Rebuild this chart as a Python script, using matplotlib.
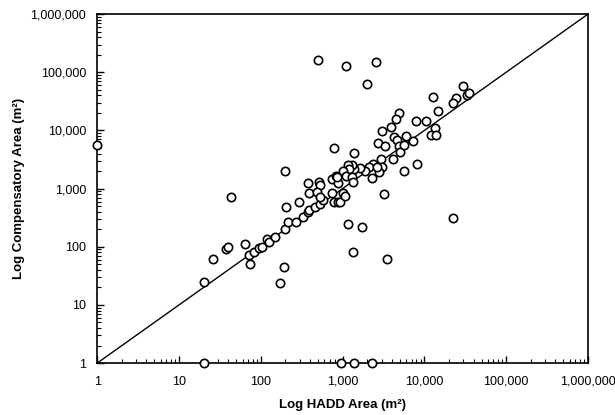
import numpy as np
import matplotlib.pyplot as plt
from matplotlib.ticker import FuncFormatter, LogLocator

plt.rcParams['font.family'] = ['Liberation Sans', 'DejaVu Sans']

# HADD area vs compensatory area (m2)
hadd_area = [1, 20, 20, 26, 38, 40, 43, 65, 72, 74, 83, 96, 103, 120, 126, 150,
             170, 195, 200, 205, 200, 218, 270, 295, 330, 380, 380, 390, 390,
             520, 530, 490, 460, 530, 580, 530, 750, 840, 750, 790, 890, 870,
             505, 1100, 2600, 2000, 790, 29600, 33000, 35000, 24500, 22500,
             12900, 14800, 7900, 10500, 13500, 12000, 14000, 7300, 8100, 5650,
             4900, 4550, 3900, 3000, 2700, 3300, 4300, 4650, 6000, 4900, 5000,
             5650, 4150, 2950, 3000, 2800, 2300, 3170, 2350, 2100, 1900, 2650,
             1650, 1380, 1380, 1310, 1160, 1200, 1020, 1100, 1310, 850, 1340,
             1020, 930, 1080, 1170, 1740, 1350, 3500, 22600, 960, 1380, 2300]
comp_area = [5600, 25, 1, 61, 91, 100, 710, 110, 72, 50, 81, 95, 100, 135, 120, 150,
             24, 45, 200, 480, 2000, 265, 265, 590, 320, 390, 1230, 830, 425,
             1290, 1140, 870, 480, 540, 630, 710, 1450, 1630, 830, 580, 580, 1230,
             160000, 127000, 148000, 64000, 5000, 57000, 40000, 44000, 35700, 29500,
             37000, 21400, 14500, 14500, 11000, 8500, 8500, 6500, 2640, 2000,
             19800, 16000, 11400, 9700, 6100, 5400, 7600, 6800, 8000, 5400, 4240,
             5600, 3200, 3200, 2400, 1900, 1500, 800, 2640, 2350, 2040, 2350,
             2230, 4050, 2150, 2500, 2500, 2150, 2040, 1630, 1560, 1580, 1290,
             830, 580, 740, 250, 215, 81, 61, 310, 1, 1, 1]
one_to_one = [1, 1e6]

fig = plt.figure(figsize=(6.15, 4.15), dpi=100)
ax = fig.add_axes([0.158, 0.125, 0.798, 0.841])

ax.plot(one_to_one, one_to_one, color='black', lw=1.0)
ax.plot(hadd_area, comp_area, 'o', ms=6, mfc='white', mec='black', mew=1.2,
        clip_on=False, zorder=3)

ax.set_xscale('log')
ax.set_yscale('log')
ax.set_xlim(1, 1e6)
ax.set_ylim(1, 1e6)

fmt = FuncFormatter(lambda v, p: f'{v:,.0f}')
for axis in (ax.xaxis, ax.yaxis):
    axis.set_major_locator(LogLocator(base=10, numticks=10))
    axis.set_minor_locator(LogLocator(base=10, subs=np.arange(2, 10), numticks=10))
    axis.set_major_formatter(fmt)

ax.tick_params(which='both', direction='in', top=False, right=False,
               labelsize=9)
ax.tick_params(which='major', length=5, width=1)
ax.tick_params(which='minor', length=3, width=0.8)
ax.tick_params(axis='x', pad=9)
ax.tick_params(axis='y', pad=8)
for s in ax.spines.values():
    s.set_linewidth(1.2)

ax.set_xlabel('Log HADD Area (m²)', fontsize=9.5, fontweight='bold', labelpad=8)
ax.set_ylabel('Log Compensatory Area (m²)', fontsize=9.5, fontweight='bold',
              labelpad=4)

fig.savefig('out.png', dpi=100)
